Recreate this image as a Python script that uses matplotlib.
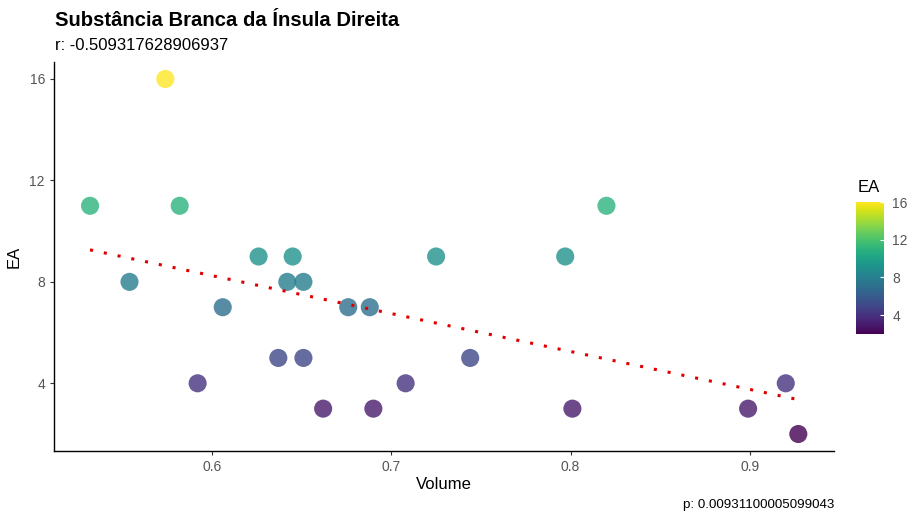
import numpy as np
import matplotlib.pyplot as plt

plt.rcParams['font.family'] = ['Liberation Sans', 'DejaVu Sans']

# dati
volume = [0.532, 0.554, 0.574, 0.582, 0.592, 0.606, 0.626, 0.637, 0.642, 0.645,
          0.651, 0.651, 0.662, 0.676, 0.688, 0.690, 0.708, 0.725, 0.744, 0.797,
          0.801, 0.820, 0.899, 0.920, 0.927]
ea = [11, 8, 16, 11, 4, 7, 9, 5, 8, 9,
      8, 5, 3, 7, 7, 3, 4, 9, 5, 9,
      3, 11, 3, 4, 2]

title = 'Substância Branca da Ínsula Direita'
subtitle = 'r: -0.509317628906937'
caption = 'p: 0.00931100005099043'

fig = plt.figure(figsize=(9.14, 5.16), dpi=100)
ax = fig.add_axes([54 / 914, 1 - 451 / 516, 780 / 914, 389 / 516])

sc = ax.scatter(volume, ea, c=ea, cmap='viridis', vmin=2, vmax=16,
                s=170, alpha=0.8, linewidths=0, zorder=2)

# retta di regressione
coef = np.polyfit(volume, ea, 1)
xs = np.array([min(volume), max(volume)])
ax.plot(xs, np.polyval(coef, xs), color='#e00000', lw=2.2,
        linestyle=(0, (1, 3.6)), zorder=3)

ax.set_xlim(0.5119, 0.9469)
ax.set_ylim(1.33, 16.67)
ax.set_xticks([0.6, 0.7, 0.8, 0.9])
ax.set_xticklabels(['0.6', '0.7', '0.8', '0.9'])
ax.set_yticks([4, 8, 12, 16])
for s in ['top', 'right']:
    ax.spines[s].set_visible(False)
for s in ['left', 'bottom']:
    ax.spines[s].set_linewidth(1.0)
ax.tick_params(labelsize=10, colors='#333333', labelcolor='#555555', length=3, width=0.8)
ax.set_xlabel('Volume', fontsize=12, labelpad=2)
ax.set_ylabel('EA', fontsize=12, labelpad=6)

fig.text(55 / 914, 1 - 20 / 516, title, fontsize=14.6, fontweight='bold', va='center')
fig.text(55 / 914, 1 - 45 / 516, subtitle, fontsize=12, va='center')
fig.text(834 / 914, 1 - 505 / 516, caption, fontsize=9.6, ha='right', va='center')

cax = fig.add_axes([856 / 914, 1 - 334 / 516, 28 / 914, 132 / 516])
cb = fig.colorbar(sc, cax=cax)
cb.solids.set_alpha(1)
cb.outline.set_visible(False)
cb.set_ticks([4, 8, 12, 16])
cax.tick_params(labelsize=10, labelcolor='#555555', length=3, color='white',
                direction='in', pad=6)
fig.text(858 / 914, 1 - 187 / 516, 'EA', fontsize=12, va='center')

fig.savefig('out.png', dpi=100)
